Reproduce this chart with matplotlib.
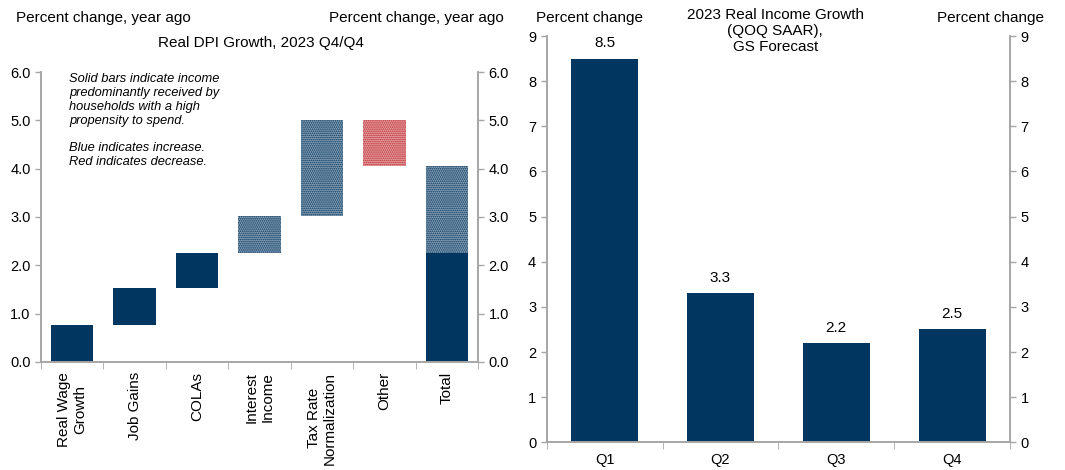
import numpy as np
import matplotlib
matplotlib.use("Agg")
import matplotlib.pyplot as plt

plt.rcParams["font.family"] = ["Liberation Sans", "DejaVu Sans"]
plt.rcParams["hatch.linewidth"] = 0.8

NAVY = "#00365f"
STIPPLE_BLUE = "#8aa0b5"
STIPPLE_RED = "#e3a3a5"
RED = "#c0262c"
GRAY = "#a6a6a6"

# left chart: waterfall of contributions to real DPI growth
dpi_labels = ["Real Wage\nGrowth", "Job Gains", "COLAs", "Interest\nIncome",
              "Tax Rate\nNormalization", "Other", "Total"]
dpi_steps = [0.77, 0.77, 0.71, 0.78, 1.97, -0.95]
dpi_solid = [True, True, True, False, False, False]
total_solid = 2.25
total_value = 4.05

# right chart: quarterly real income growth
quarters = ["Q1", "Q2", "Q3", "Q4"]
qoq_growth = [8.5, 3.3, 2.2, 2.5]

HATCH = "........"


def style_axes(ax):
    ax.spines["top"].set_visible(False)
    for side in ["left", "right", "bottom"]:
        ax.spines[side].set_color(GRAY)
        ax.spines[side].set_linewidth(1.2)
    ax.tick_params(axis="both", colors=GRAY, labelcolor="black", labelsize=10.5,
                   length=4, width=1)


fig = plt.figure(figsize=(10.65, 4.7), dpi=100)

# ---- left panel ----
ax1 = fig.add_axes([0.0385, 0.2298, 0.4103, 0.617])
x = np.arange(len(dpi_labels))
width = 0.68
tops = np.cumsum(dpi_steps)
bottoms = tops - np.array(dpi_steps)
for i, step in enumerate(dpi_steps):
    lo, hi = min(bottoms[i], tops[i]), max(bottoms[i], tops[i])
    if dpi_solid[i]:
        ax1.bar(x[i], hi - lo, bottom=lo, width=width, color=NAVY, linewidth=0)
    elif step > 0:
        ax1.bar(x[i], hi - lo, bottom=lo, width=width, facecolor=STIPPLE_BLUE,
                edgecolor=NAVY, hatch=HATCH, linewidth=0)
    else:
        ax1.bar(x[i], hi - lo, bottom=lo, width=width, facecolor=STIPPLE_RED,
                edgecolor=RED, hatch=HATCH, linewidth=0)
ax1.bar(x[-1], total_value - total_solid, bottom=total_solid, width=width,
        facecolor=STIPPLE_BLUE, edgecolor=NAVY, hatch=HATCH, linewidth=0)
ax1.bar(x[-1], total_solid, width=width, color=NAVY, linewidth=0)

ax1.set_xlim(-0.5, len(dpi_labels) - 0.5)
ax1.set_ylim(0, 6)
ax1.set_yticks(np.arange(0, 6.1, 1.0))
ax1.yaxis.set_major_formatter(matplotlib.ticker.FormatStrFormatter("%.1f"))
ax1.set_xticks(x)
ax1.set_xticklabels(dpi_labels, rotation=90, multialignment="center", va="top",
                    fontsize=11)
ax1.set_xticks(np.arange(-0.5, len(dpi_labels)), minor=True)
style_axes(ax1)
ax1.tick_params(axis="x", which="major", length=0, pad=7, labelsize=11)
ax1.tick_params(axis="x", which="minor", length=5, color=GRAY)

ax1r = ax1.twinx()
ax1r.set_ylim(0, 6)
ax1r.set_yticks(np.arange(0, 6.1, 1.0))
ax1r.yaxis.set_major_formatter(matplotlib.ticker.FormatStrFormatter("%.1f"))
style_axes(ax1r)

ax1.text(0.065, 0.995, "Solid bars indicate income\npredominantly received by\n"
         "households with a high\npropensity to spend.\n\n"
         "Blue indicates increase.\nRed indicates decrease.",
         transform=ax1.transAxes, ha="left", va="top", fontsize=9.3,
         style="italic", linespacing=1.2)

fig.text(0.015, 0.962, "Percent change, year ago", fontsize=11, ha="left", va="center")
fig.text(0.473, 0.962, "Percent change, year ago", fontsize=11, ha="right", va="center")
fig.text(0.245, 0.908, "Real DPI Growth, 2023 Q4/Q4", fontsize=11, ha="center", va="center")

# ---- right panel ----
ax2 = fig.add_axes([0.5133, 0.0589, 0.4351, 0.8645])
xq = np.arange(len(quarters))
bars = ax2.bar(xq, qoq_growth, width=0.58, color=NAVY, linewidth=0)
for rect, val in zip(bars, qoq_growth):
    ax2.text(rect.get_x() + rect.get_width() / 2, val + 0.18, f"{val:.1f}",
             ha="center", va="bottom", fontsize=11)
ax2.set_xlim(-0.5, len(quarters) - 0.5)
ax2.set_ylim(0, 9)
ax2.set_yticks(range(0, 10))
ax2.set_xticks(xq)
ax2.set_xticklabels(quarters)
ax2.set_xticks(np.arange(-0.5, len(quarters)), minor=True)
style_axes(ax2)
ax2.tick_params(axis="x", which="major", length=0, pad=8)
ax2.tick_params(axis="x", which="minor", length=5, color=GRAY)

ax2r = ax2.twinx()
ax2r.set_ylim(0, 9)
ax2r.set_yticks(range(0, 10))
style_axes(ax2r)

fig.text(0.503, 0.962, "Percent change", fontsize=11, ha="left", va="center")
fig.text(0.98, 0.962, "Percent change", fontsize=11, ha="right", va="center")
fig.text(0.728, 0.983, "2023 Real Income Growth\n(QOQ SAAR),\nGS Forecast",
         fontsize=11, ha="center", va="top", linespacing=1.2)

fig.savefig("out.png", dpi=100)
